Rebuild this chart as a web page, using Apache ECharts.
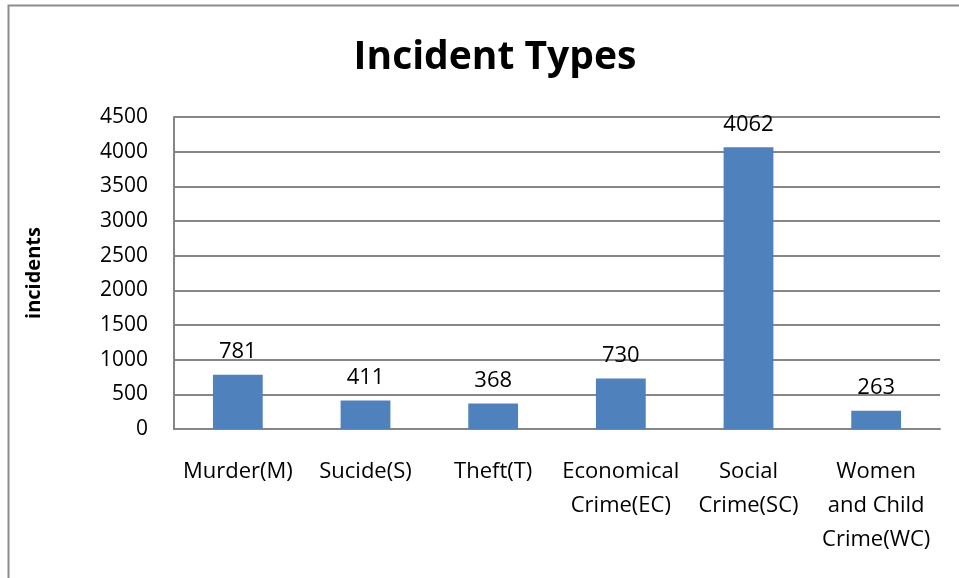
<!DOCTYPE html>
<html><head><meta charset="utf-8">
<script src="https://cdn.jsdelivr.net/npm/echarts@6/dist/echarts.min.js"></script>
<style>html,body{margin:0;padding:0;background:#fff}#c{width:959px;height:578px}</style>
</head><body><div id="c"></div>
<script>
const categories = ['Murder(M)', 'Sucide(S)', 'Theft(T)', 'Economical\nCrime(EC)', 'Social\nCrime(SC)', 'Women\nand Child\nCrime(WC)'];
const values = [781, 411, 368, 730, 4062, 263];
const titleText = 'Incident Types';
const yName = 'incidents';

const chart = echarts.init(document.getElementById('c'));
const font = '"Open Sans", "Noto Sans", sans-serif';
chart.setOption({
  animation: false,
  title: { text: titleText, left: 490, top: 33, textAlign: 'center',
    textStyle: { fontFamily: font, fontSize: 39, fontWeight: 'bold', color: '#000' } },
  graphic: [{ type: 'rect', shape: { x: 8.5, y: 5.5, width: 960, height: 600 },
    style: { fill: 'none', stroke: '#8c8c8c', lineWidth: 2 }, silent: true }],
  grid: { left: 174, right: 19, top: 117, bottom: 149 },
  xAxis: { type: 'category', data: categories,
    axisLine: { lineStyle: { color: '#868686', width: 2 } },
    axisTick: { show: false },
    axisLabel: { fontFamily: font, fontSize: 22, color: '#000', margin: 26, lineHeight: 34, interval: 0 } },
  yAxis: { type: 'value', min: 0, max: 4500, interval: 500,
    name: yName, nameLocation: 'middle', nameGap: 130, nameRotate: 90,
    nameTextStyle: { fontFamily: font, fontSize: 20, fontWeight: 'bold', color: '#000' },
    axisLine: { show: true, lineStyle: { color: '#868686', width: 2 } },
    axisTick: { show: false },
    splitLine: { lineStyle: { color: '#868686', width: 2 } },
    axisLabel: { fontFamily: font, fontSize: 21, color: '#000', margin: 26, formatter: v => String(v) } },
  series: [{ type: 'bar', data: values, barWidth: '39%',
    itemStyle: { color: '#4F81BD' },
    label: { show: true, position: 'top', distance: 12, fontFamily: font, fontSize: 22, color: '#000' } }]
});
</script></body></html>
